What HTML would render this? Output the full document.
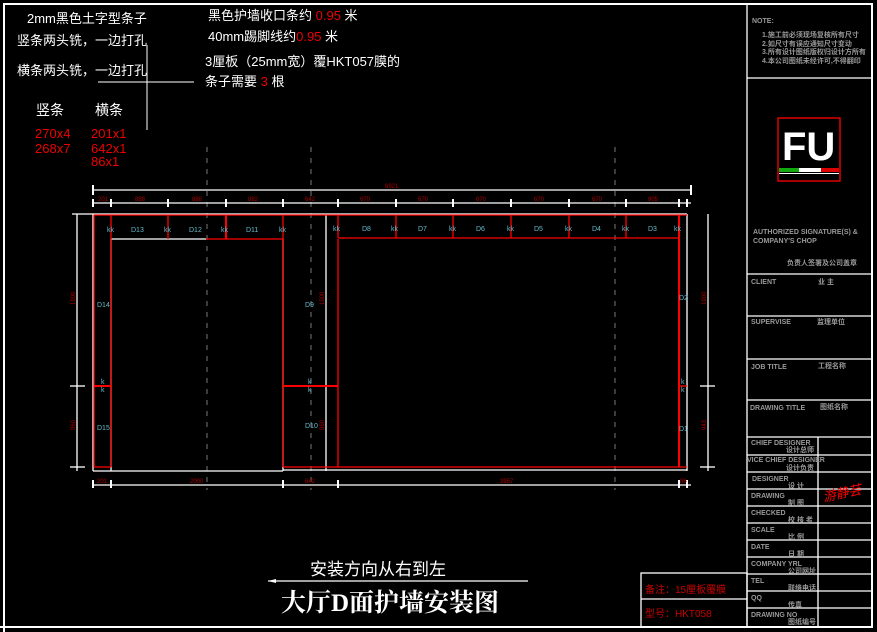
<!DOCTYPE html>
<html><head><meta charset="utf-8"><style>
html,body{margin:0;padding:0;background:#000;}
svg{display:block}
.s{font-family:"Liberation Sans","Noto Sans CJK SC",sans-serif;}
</style></head><body>
<svg width="877" height="632" viewBox="0 0 877 632" xmlns="http://www.w3.org/2000/svg" class="s">
<rect width="877" height="632" fill="#000"/>
<polyline points="4,632 4,4 872,4 872,627 0,627" fill="none" stroke="#fff" stroke-width="2"/>
<g fill="#fff" font-size="13">
<text x="27" y="23">2mm黑色土字型条子</text>
<text x="17" y="45">竖条两头铣，一边打孔</text>
<text x="17" y="75">横条两头铣，一边打孔</text>
<text x="36" y="115" font-size="14">竖条</text>
<text x="95" y="115" font-size="14">横条</text>
<text x="208" y="20">黑色护墙收口条约 <tspan fill="#e00">0.95</tspan> 米</text>
<text x="208" y="41">40mm踢脚线约<tspan fill="#e00">0.95</tspan> 米</text>
<text x="205" y="66">3厘板（25mm宽）覆HKT057膜的</text>
<text x="205" y="86">条子需要 <tspan fill="#e00">3</tspan> 根</text>
</g>
<g fill="#e00" font-size="13">
<text x="35" y="138">270x4</text><text x="35" y="153">268x7</text>
<text x="91" y="138">201x1</text><text x="91" y="153">642x1</text><text x="91" y="166">86x1</text>
</g>
<line x1="98" y1="82" x2="194" y2="82" stroke="#fff"/>
<line x1="147" y1="45" x2="147" y2="130" stroke="#fff"/>
<g stroke="#777" stroke-dasharray="5,6">
<line x1="207" y1="147" x2="207" y2="490"/>
<line x1="311" y1="147" x2="311" y2="490"/>
<line x1="615" y1="147" x2="615" y2="490"/>
</g>
<g stroke="#fff" stroke-width="1.3">
<line x1="93" y1="190" x2="691" y2="190"/>
<line x1="93" y1="203" x2="691" y2="203"/>
<line x1="93" y1="485" x2="691" y2="485"/>
<line x1="77" y1="214" x2="77" y2="471"/>
<line x1="708" y1="214" x2="708" y2="471"/>
<line x1="326" y1="214" x2="326" y2="471"/>
<line x1="72" y1="214" x2="93" y2="214"/>
<line x1="70" y1="386" x2="85" y2="386"/>
<line x1="70" y1="467" x2="85" y2="467"/>
<line x1="700" y1="386" x2="715" y2="386"/>
<line x1="700" y1="467" x2="715" y2="467"/>
</g>
<g stroke="#fff" stroke-width="2">
<path d="M93,185v10M93,199v8M111,199v8M168,199v8M226,199v8M283,199v8M338,199v8M396,199v8M453,199v8M511,199v8M569,199v8M626,199v8M679,199v8M687,199v8M691,185v10"/>
<path d="M93,480v8M111,480v8M283,480v8M338,480v8M679,480v8M687,480v8"/>
</g>
<g fill="#a00" font-size="6">
<text x="98" y="201">201</text><text x="135" y="201">888</text><text x="192" y="201">888</text><text x="248" y="201">882</text><text x="305" y="201">642</text>
<text x="360" y="201">670</text><text x="418" y="201">670</text><text x="476" y="201">670</text><text x="534" y="201">670</text><text x="592" y="201">670</text><text x="648" y="201">805</text>
<text x="385" y="188">6921</text>
<text x="97" y="483">201</text><text x="190" y="483">2000</text><text x="305" y="483">642</text><text x="500" y="483">3957</text><text x="680" y="483">86</text>
<text transform="translate(75,305) rotate(-90)">1900</text><text transform="translate(75,430) rotate(-90)">960</text>
<text transform="translate(324,305) rotate(-90)">1900</text><text transform="translate(324,430) rotate(-90)">960</text>
<text transform="translate(706,305) rotate(-90)">1900</text><text transform="translate(706,430) rotate(-90)">943</text>
</g>
<g stroke="#fff" stroke-width="1.3" fill="none">
<line x1="93" y1="214" x2="93" y2="471"/>
<line x1="93" y1="214" x2="687" y2="214"/>
<line x1="93" y1="471" x2="283" y2="471"/>
<line x1="283" y1="470" x2="687" y2="470"/>
<line x1="687" y1="214" x2="687" y2="471"/>
<line x1="111" y1="239" x2="206" y2="239"/>
<line x1="283" y1="239" x2="283" y2="471"/>
<line x1="111" y1="239" x2="111" y2="471"/>
</g>
<g stroke="#f00" stroke-width="1.3" fill="none">
<line x1="94" y1="215" x2="687" y2="215"/>
<line x1="94" y1="215" x2="94" y2="467"/>
<line x1="111" y1="215" x2="111" y2="467"/>
<line x1="94" y1="467" x2="111" y2="467"/>
<line x1="94" y1="386" x2="111" y2="386" stroke-width="2"/>
<line x1="168" y1="215" x2="168" y2="239"/>
<line x1="226" y1="215" x2="226" y2="239" stroke-width="2"/>
<line x1="206" y1="239" x2="283" y2="239"/>
<line x1="283" y1="215" x2="283" y2="467"/>
<line x1="338" y1="239" x2="338" y2="467"/>
<line x1="283" y1="467" x2="338" y2="467"/>
<line x1="283" y1="386" x2="338" y2="386" stroke-width="2"/>
<line x1="338" y1="238" x2="679" y2="238"/>
<line x1="338" y1="215" x2="338" y2="238"/>
<line x1="396" y1="215" x2="396" y2="238"/>
<line x1="453" y1="215" x2="453" y2="238"/>
<line x1="511" y1="215" x2="511" y2="238"/>
<line x1="569" y1="215" x2="569" y2="238"/>
<line x1="626" y1="215" x2="626" y2="238"/>
<line x1="679" y1="215" x2="679" y2="467" stroke-width="2"/>
<line x1="338" y1="467" x2="687" y2="467"/>
<line x1="679" y1="386" x2="687" y2="386"/>
</g>
<g fill="#6bc" font-size="7">
<text x="131" y="232">D13</text><text x="189" y="232">D12</text><text x="246" y="232">D11</text>
<text x="362" y="231">D8</text><text x="418" y="231">D7</text><text x="476" y="231">D6</text><text x="534" y="231">D5</text><text x="592" y="231">D4</text><text x="648" y="231">D3</text>
<text x="97" y="307">D14</text><text x="97" y="430">D15</text><text x="305" y="307">D9</text><text x="305" y="428">D10</text>
<text x="679" y="300">D2</text><text x="679" y="431">D1</text>
<text x="107" y="232">kk</text><text x="164" y="232">kk</text><text x="221" y="232">kk</text><text x="279" y="232">kk</text>
<text x="333" y="231">kk</text><text x="391" y="231">kk</text><text x="449" y="231">kk</text><text x="507" y="231">kk</text><text x="565" y="231">kk</text><text x="622" y="231">kk</text><text x="674" y="231">kk</text>
<text x="101" y="384">k</text><text x="101" y="392">k</text><text x="308" y="384">k</text><text x="308" y="392">k</text><text x="681" y="384">k</text><text x="681" y="392">k</text>
</g>
<text x="310" y="575" fill="#fff" font-size="17">安装方向从右到左</text>
<line x1="268" y1="581" x2="528" y2="581" stroke="#fff" stroke-width="1.3"/>
<path d="M268,581 l8,-2 v4z" fill="#fff"/>
<text x="281" y="611" fill="#fff" font-size="25" font-weight="bold" font-family="Liberation Serif,Noto Serif CJK SC,serif">大厅D面护墙安装图</text>
<g stroke="#fff" stroke-width="1.3" fill="none">
<rect x="641" y="573" width="106" height="54"/>
<line x1="641" y1="599" x2="747" y2="599"/>
</g>
<text x="645" y="593" fill="#c00" font-size="10">备注：15厘板覆膜</text>
<text x="645" y="617" fill="#c00" font-size="10">型号：HKT058</text>
<g stroke="#fff" stroke-width="1.3" fill="none">
<line x1="747" y1="4" x2="747" y2="627"/>
<line x1="747" y1="78" x2="872" y2="78"/>
<line x1="747" y1="274" x2="872" y2="274"/>
<line x1="747" y1="316" x2="872" y2="316"/>
<line x1="747" y1="359" x2="872" y2="359"/>
<line x1="747" y1="400" x2="872" y2="400"/>
<line x1="747" y1="437" x2="872" y2="437"/>
<line x1="747" y1="455" x2="872" y2="455"/>
<line x1="747" y1="472" x2="872" y2="472"/>
<line x1="747" y1="489" x2="872" y2="489"/>
<line x1="747" y1="506" x2="872" y2="506"/>
<line x1="747" y1="523" x2="872" y2="523"/>
<line x1="747" y1="540" x2="872" y2="540"/>
<line x1="747" y1="557" x2="872" y2="557"/>
<line x1="747" y1="574" x2="872" y2="574"/>
<line x1="747" y1="591" x2="872" y2="591"/>
<line x1="747" y1="608" x2="872" y2="608"/>
<line x1="818" y1="437" x2="818" y2="627"/>
</g>
<g fill="#999" font-size="7" font-weight="bold">
<text x="752" y="23">NOTE:</text>
<text x="762" y="37">1.施工前必须现场复核所有尺寸</text>
<text x="762" y="46">2.如尺寸有误应通知尺寸变动</text>
<text x="762" y="54">3.所有设计图纸版权归设计方所有</text>
<text x="762" y="63">4.本公司图纸未经许可,不得翻印</text>
<text x="753" y="234">AUTHORIZED SIGNATURE(S) &amp;</text>
<text x="753" y="243">COMPANY'S CHOP</text>
<text x="787" y="265">负责人签署及公司盖章</text>
<text x="751" y="284">CLIENT</text><text x="818" y="284">业 主</text>
<text x="751" y="324">SUPERVISE</text><text x="817" y="324">监理单位</text>
<text x="751" y="369">JOB TITLE</text><text x="818" y="368">工程名称</text>
<text x="750" y="410">DRAWING TITLE</text><text x="820" y="409">图纸名称</text>
<text x="751" y="445">CHIEF DESIGNER</text><text x="786" y="452">设计总师</text>
<text x="747" y="462">VICE CHIEF DESIGNER</text><text x="786" y="470">设计负责</text>
<text x="752" y="481">DESIGNER</text><text x="788" y="488">设 计</text>
<text x="751" y="498">DRAWING</text><text x="788" y="505">制 图</text>
<text x="751" y="515">CHECKED</text><text x="788" y="522">校 核 者</text>
<text x="751" y="532">SCALE</text><text x="788" y="539">比 例</text>
<text x="751" y="549">DATE</text><text x="788" y="556">日 期</text>
<text x="751" y="566">COMPANY YRL</text><text x="788" y="573">公司网址</text>
<text x="751" y="583">TEL</text><text x="788" y="590">联络电话</text>
<text x="751" y="600">QQ</text><text x="788" y="607">传真</text>
<text x="751" y="617">DRAWING NO</text><text x="788" y="624">图纸编号</text>
</g>
<text x="822" y="497" fill="#f00" font-size="13" font-style="italic" transform="rotate(-12,845,490)">游静芸</text>
<rect x="778" y="118" width="62" height="63" fill="none" stroke="#f00" stroke-width="1.3"/>
<text x="782" y="160" fill="#fff" font-size="40" font-weight="bold">FU</text>
<rect x="779" y="168" width="20" height="4" fill="#1a1"/>
<rect x="799" y="168" width="22" height="4" fill="#fff"/>
<rect x="821" y="168" width="18" height="4" fill="#d00"/>
<line x1="779" y1="173.5" x2="839" y2="173.5" stroke="#fff"/>
</svg>
</body></html>
